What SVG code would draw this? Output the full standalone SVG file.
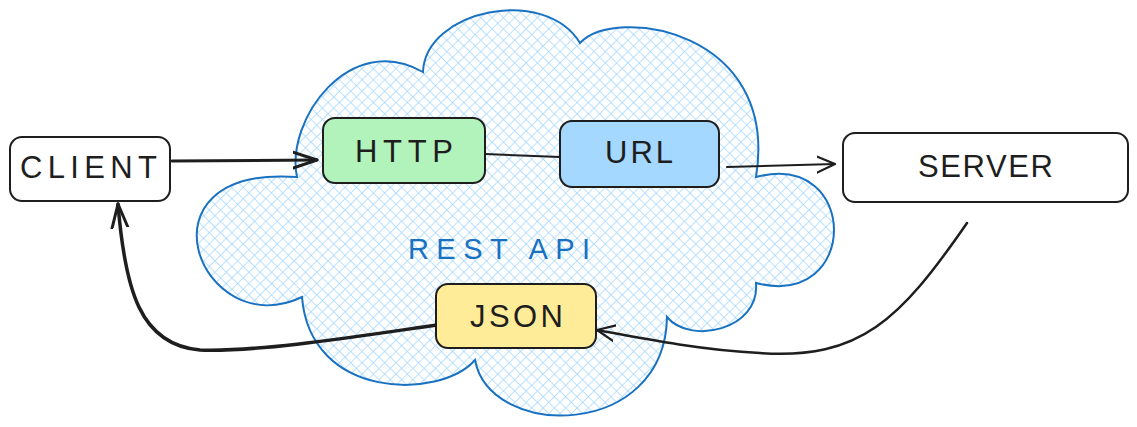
<svg xmlns="http://www.w3.org/2000/svg" width="1137" height="427" viewBox="0 0 1137 427">
<style>
.box{stroke:#1e1e1e;stroke-width:2;}
.lbl{font-family:"Liberation Sans",Arial,sans-serif;font-size:31px;fill:#1e1e1e;}
.conn{fill:none;stroke:#1e1e1e;stroke-linecap:round;stroke-linejoin:round;}
</style>
<defs>
<pattern id="hatch" width="8" height="8" patternUnits="userSpaceOnUse" patternTransform="rotate(45)">
<path d="M0 0H8M0 0V8" stroke="#a5d8ff" stroke-width="1.5" fill="none"/>
</pattern>
<marker id="arr" viewBox="0 0 20 20" refX="18" refY="10" markerWidth="20" markerHeight="20" markerUnits="userSpaceOnUse" orient="auto">
<path d="M0 2 L18 10 L0 18" fill="none" stroke="#1e1e1e" stroke-width="2.2" stroke-linecap="round" stroke-linejoin="round"/>
</marker>
<marker id="arrB" viewBox="0 0 26 26" refX="24" refY="13" markerWidth="26" markerHeight="26" markerUnits="userSpaceOnUse" orient="auto">
<path d="M0 5 L24 13 L0 21" fill="none" stroke="#1e1e1e" stroke-width="3" stroke-linecap="round" stroke-linejoin="round"/>
</marker>
</defs>
<g id="cloud">
<path d="M297 177 C285 120 350 30 423 72 C425 10 545 -15 580 43 C615 5 780 30 756 177 C860 150 860 310 756 283 C760 330 690 345 667 317 C665 440 490 440 475 360 C440 400 310 400 302 297 C200 345 130 165 297 177 Z" fill="url(#hatch)" stroke="#1971c2" stroke-width="2"/>
<text x="408" y="259" font-family="'Liberation Sans',Arial,sans-serif" font-size="29" fill="#1971c2" textLength="182" lengthAdjust="spacing">REST API</text>
</g>
<g id="connectors">
<path class="conn" d="M172 161 L317 160" stroke-width="3" marker-end="url(#arrB)"/>
<path class="conn" d="M485 154 L560 157" stroke-width="2"/>
<path class="conn" d="M727 167 L835 164" stroke-width="2" marker-end="url(#arr)"/>
<path class="conn" d="M967 223 C900 320 860 360 760 353 C700 350 640 338 597 330" stroke-width="2.5" marker-end="url(#arr)"/>
<path class="conn" d="M437 325 C360 336 260 352 200 350 C140 345 125 290 118 204" stroke-width="3.5" marker-end="url(#arrB)"/>
</g>
<g id="client">
<rect class="box" x="10" y="137" width="160" height="64" rx="12" fill="#ffffff"/>
<text class="lbl" x="20" y="178" textLength="137" lengthAdjust="spacing">CLIENT</text>
</g>
<g id="http">
<rect class="box" x="323" y="118" width="162" height="65" rx="12" fill="#b2f2bb"/>
<text class="lbl" x="355" y="162" textLength="98" lengthAdjust="spacing">HTTP</text>
</g>
<g id="url">
<rect class="box" x="560" y="121" width="159" height="66" rx="12" fill="#a5d8ff"/>
<text class="lbl" x="605" y="163" textLength="68" lengthAdjust="spacing">URL</text>
</g>
<g id="server">
<rect class="box" x="843" y="133" width="285" height="69" rx="12" fill="#ffffff"/>
<text class="lbl" x="918" y="177" textLength="135" lengthAdjust="spacing">SERVER</text>
</g>
<g id="json">
<rect class="box" x="436" y="284" width="160" height="64" rx="12" fill="#ffec99"/>
<text class="lbl" x="470" y="327" textLength="93" lengthAdjust="spacing">JSON</text>
</g>
</svg>
